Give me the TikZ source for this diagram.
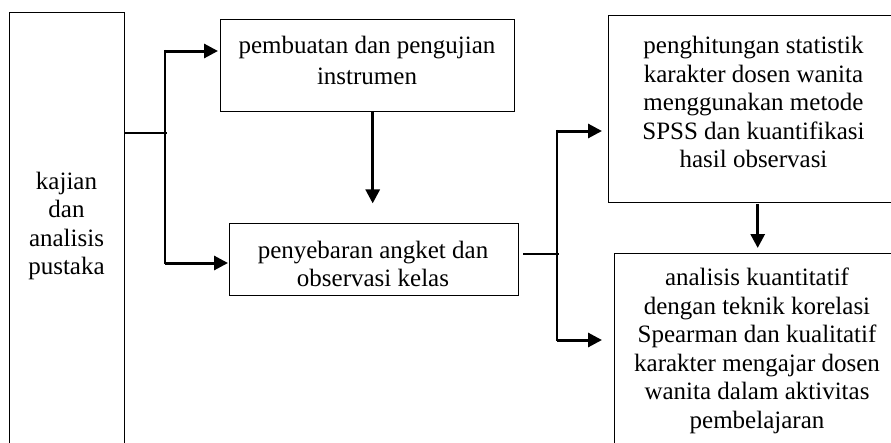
\documentclass[tikz,border=0pt]{standalone}
\usepackage{fontspec}
\setmainfont{Liberation Serif}
\usetikzlibrary{arrows.meta}
\begin{document}
\begin{tikzpicture}[x=1pt,y=1pt,
  box/.style={draw, line width=1.4pt, inner sep=0pt},
  txt/.style={align=center, inner sep=0pt, font=\fontsize{25}{28.5}\selectfont},
  thinline/.style={line width=1.3pt},
  arr/.style={line width=3pt, -{Triangle[length=14pt,width=14pt]}},
  vline/.style={line width=2.5pt}]
\useasboundingbox (0,0) rectangle (891,-442);
\clip (0,0) rectangle (891,-442);
% boxes
\node[box, minimum width=115pt, minimum height=450pt, anchor=north west] (lit) at (9,-12) {};
\node[box, minimum width=294pt, minimum height=92pt, anchor=north west] (b1) at (220,-19) {};
\node[box, minimum width=289pt, minimum height=72pt, anchor=north west] (b2) at (229,-223) {};
\node[box, minimum width=291pt, minimum height=187pt, anchor=north west] (b3) at (608,-15) {};
\node[box, minimum width=286pt, minimum height=220pt, anchor=north west] (b4) at (614,-253) {};
% texts
\node[txt] (litt) at (66.5,-226) {kajian\\dan\\analisis\\pustaka};
\node[txt, font=\fontsize{25}{31}\selectfont] (t1) at (367,-60) {pembuatan dan pengujian\\instrumen};
\node[txt] (t2) at (373,-264) {penyebaran angket dan\\observasi kelas};
\node[txt] (t3) at (753.5,-102) {penghitungan statistik\\karakter dosen wanita\\menggunakan metode\\SPSS dan kuantifikasi\\hasil observasi};
\node[txt] (t4) at (757,-351) {analisis kuantitatif\\dengan teknik korelasi\\Spearman dan kualitatif\\karakter mengajar dosen\\wanita dalam aktivitas\\pembelajaran};
% junctions
\coordinate (j1) at (165,-133);
\coordinate (j2) at (557,-254);
\coordinate (j1top) at (165,-51);
\coordinate (j1bot) at (165,-263);
\coordinate (j2top) at (557,-131);
\coordinate (j2bot) at (557,-340);
% connectors
\draw[thinline] (lit.east |- j1) -- ([xshift=1.5]j1);
\draw[vline] ([yshift=1.2]j1top) -- ([yshift=-1.2]j1bot);
\draw[arr] (j1top) -- ([xshift=-2]b1.west |- j1top);
\draw[arr] (j1bot) -- ([xshift=-1]b2.west |- j1bot);
\draw[arr] ([xshift=5]b1.south) -- ++(0,-91);
\draw[thinline] ([xshift=4]b2.east |- j2) -- ([xshift=1.5]j2);
\draw[vline] ([yshift=1.2]j2top) -- ([yshift=-1.2]j2bot);
\draw[arr] (j2top) -- ([xshift=-6]b3.west |- j2top);
\draw[arr] (j2bot) -- ([xshift=-12]b4.west |- j2bot);
\draw[arr] ([xshift=3.5]b3.south |- 0,-204) -- ([xshift=3.5]b3.south |- 0,-248);
\end{tikzpicture}
\end{document}
